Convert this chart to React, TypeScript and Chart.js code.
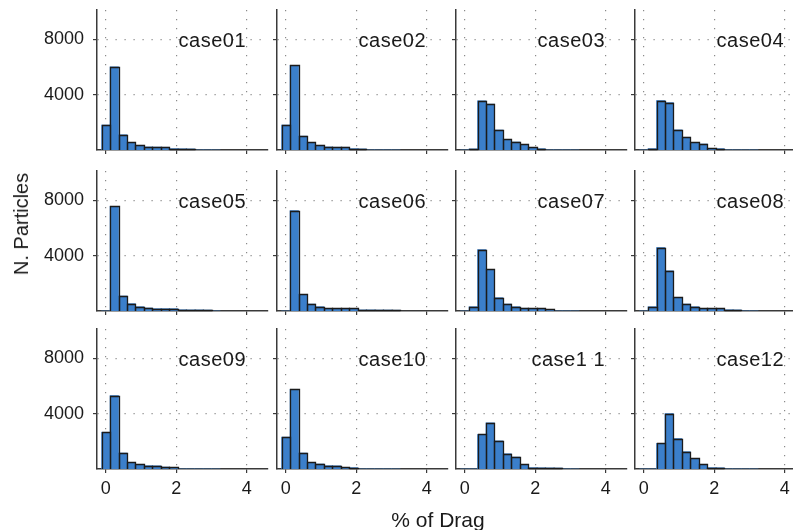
import React, { useEffect, useRef } from "react";
import { Chart, registerables } from "chart.js";

Chart.register(...registerables);

// Histogram bin centres (% of drag), bin width 0.24
const BIN_CENTERS = [0, 0.24, 0.48, 0.72, 0.96, 1.2, 1.44, 1.68, 1.92, 2.16, 2.4, 2.64, 2.88, 3.12];

const CASE_NAMES = ["case01", "case02", "case03", "case04", "case05", "case06", "case07", "case08", "case09", "case10", "case1 1", "case12"];

const CASE01 = [1800, 6000, 1100, 550, 340, 220, 210, 200, 100, 90, 80, 0, 0, 0];
const CASE02 = [1800, 6100, 1000, 550, 340, 220, 200, 200, 100, 80, 0, 0, 0, 0];
const CASE03 = [0, 80, 3550, 3310, 1440, 770, 575, 410, 190, 96, 0, 0, 0, 0];
const CASE04 = [0, 100, 3570, 3420, 1450, 920, 550, 430, 120, 100, 0, 0, 0, 0];
const CASE05 = [0, 7550, 1080, 530, 310, 215, 170, 170, 170, 90, 80, 80, 70, 0];
const CASE06 = [0, 7250, 1200, 500, 310, 190, 190, 190, 190, 80, 80, 70, 70, 60];
const CASE07 = [0, 310, 4430, 3000, 960, 500, 310, 200, 190, 190, 110, 0, 0, 0];
const CASE08 = [0, 310, 4580, 2900, 980, 500, 310, 190, 190, 190, 90, 80, 0, 0];
const CASE09 = [2650, 5300, 1150, 480, 340, 240, 230, 140, 110, 0, 0, 0, 0, 0];
const CASE10 = [2300, 5750, 1150, 480, 360, 240, 230, 120, 100, 0, 0, 0, 0, 0];
const CASE11 = [0, 0, 2490, 3330, 2030, 1100, 860, 330, 100, 90, 80, 70, 0, 0];
const CASE12 = [0, 0, 1850, 4000, 2200, 1250, 770, 340, 100, 90, 0, 0, 0, 0];

const CASES = [CASE01, CASE02, CASE03, CASE04, CASE05, CASE06, CASE07, CASE08, CASE09, CASE10, CASE11, CASE12];

const X_TICKS = [0, 2, 4];
const Y_TICKS = [4000, 8000];
const X_MIN = -0.25;
const X_MAX = 4.6;
const Y_MIN = 0;
const Y_MAX = 10100;

const FONT = "'Liberation Sans', Arimo, Arial, Helvetica, sans-serif";
const BAR_COLOR = "#3b7fcb";
const BAR_BORDER = "#1b1b1b";
const AXIS_COLOR = "#3a3a3a";
const GRID_COLOR = "#8a8a8a";
const TEXT_COLOR = "#1a1a1a";

// layout (page pixels)
const COL_LEFT = [97, 277, 456, 635];
const ROW_BOTTOM = [150, 311, 469];
const AREA_W = 171;
const AREA_H = 140;
const PAD_L = 97;
const PAD_T = 10;
const PAD_R = 12;
const PAD_B = 45;
const CW = PAD_L + AREA_W + PAD_R;
const CH = PAD_T + AREA_H + PAD_B;

const caseLabelPlugin = {
  id: "caseLabel",
  afterDraw(chart: any, _args: any, opts: any) {
    const { ctx, chartArea } = chart;
    ctx.save();
    ctx.font = `20px ${FONT}`;
    try { (ctx as any).letterSpacing = "0.5px"; } catch (e) {}
    ctx.fillStyle = TEXT_COLOR;
    ctx.textAlign = "right";
    ctx.textBaseline = "middle";
    ctx.fillText(opts.text, chartArea.right - 22, chartArea.top + 31);
    ctx.restore();
  },
};

// outlines every histogram bar (so that very short bars still show their dark edge)
const barOutlinePlugin = {
  id: "barOutline",
  afterDatasetsDraw(chart: any) {
    const { ctx, chartArea } = chart;
    const meta = chart.getDatasetMeta(0);
    ctx.save();
    ctx.beginPath();
    ctx.rect(chartArea.left, chartArea.top, chartArea.right - chartArea.left, chartArea.bottom - chartArea.top + 1);
    ctx.clip();
    ctx.strokeStyle = BAR_BORDER;
    ctx.lineWidth = 1.3;
    meta.data.forEach((el: any, i: number) => {
      const v = chart.data.datasets[0].data[i];
      if (!v) return;
      const { x, y, base, width } = el.getProps(["x", "y", "base", "width"], true);
      const l = Math.round(x - width / 2) + 0.5;
      const rr = Math.round(x + width / 2) + 0.5;
      const t = Math.round(Math.min(y, base - 1.5)) + 0.5;
      const b = Math.round(base);
      ctx.beginPath();
      ctx.moveTo(l, b);
      ctx.lineTo(l, t);
      ctx.lineTo(rr, t);
      ctx.lineTo(rr, b);
      ctx.stroke();
    });
    ctx.restore();
  },
};

function Panel({ idx }: { idx: number }) {
  const ref = useRef<HTMLCanvasElement>(null);
  const r = Math.floor(idx / 4);
  const c = idx % 4;
  const showY = c === 0;
  const showX = r === 2;

  useEffect(() => {
    const chart = new Chart(ref.current as HTMLCanvasElement, {
      type: "bar",
      data: {
        labels: BIN_CENTERS,
        datasets: [
          {
            data: CASES[idx],
            backgroundColor: BAR_COLOR,
            borderWidth: 0,
            barPercentage: 1,
            categoryPercentage: 1,
          },
        ],
      },
      options: {
        responsive: false,
        animation: false,
        events: [],
        layout: { padding: { left: 0, top: PAD_T, right: PAD_R, bottom: 0 } },
        plugins: {
          legend: { display: false },
          tooltip: { enabled: false },
          caseLabel: { text: CASE_NAMES[idx] },
        } as any,
        scales: {
          x: {
            type: "linear",
            min: X_MIN,
            max: X_MAX,
            offset: false,
            afterBuildTicks: (s: any) => {
              s.ticks = X_TICKS.map((v) => ({ value: v }));
            },
            afterFit: (s: any) => {
              s.height = PAD_B;
              s.paddingLeft = 0;
              s.paddingRight = 0;
              s.paddingTop = 0;
              s.paddingBottom = 0;
            },
            grid: {
              offset: false,
              color: GRID_COLOR,
              lineWidth: 1.2,
              drawTicks: true,
              tickLength: 4,
              tickColor: AXIS_COLOR,
              tickWidth: 1.2,
            },
            border: { display: true, color: AXIS_COLOR, width: 1.5, dash: [1.2, 7.8] },
            ticks: {
              display: showX,
              font: { family: FONT, size: 18 },
              color: TEXT_COLOR,
              padding: 5,
              maxRotation: 0,
              autoSkip: false,
              callback: (v: any) => String(v),
            },
          },
          y: {
            type: "linear",
            min: Y_MIN,
            max: Y_MAX,
            afterBuildTicks: (s: any) => {
              s.ticks = Y_TICKS.map((v) => ({ value: v }));
            },
            afterFit: (s: any) => {
              s.width = PAD_L;
              s.paddingLeft = 0;
              s.paddingRight = 0;
              s.paddingTop = 0;
              s.paddingBottom = 0;
            },
            grid: {
              color: GRID_COLOR,
              lineWidth: 1.2,
              drawTicks: true,
              tickLength: 4,
              tickColor: AXIS_COLOR,
              tickWidth: 1.2,
            },
            border: { display: true, color: AXIS_COLOR, width: 1.5, dash: [1.2, 7.8] },
            ticks: {
              display: showY,
              font: { family: FONT, size: 18 },
              color: TEXT_COLOR,
              padding: 9,
              autoSkip: false,
              callback: (v: any) => String(v),
            },
          },
        },
      } as any,
      plugins: [barOutlinePlugin, caseLabelPlugin],
    });
    return () => chart.destroy();
  }, [idx]);

  return (
    <canvas
      ref={ref}
      width={CW}
      height={CH}
      style={{
        position: "absolute",
        left: COL_LEFT[c] - PAD_L,
        top: ROW_BOTTOM[r] - AREA_H - PAD_T,
        width: CW,
        height: CH,
      }}
    />
  );
}

export default function App() {
  return (
    <div
      style={{
        position: "absolute",
        left: 0,
        top: 0,
        width: 793,
        height: 530,
        overflow: "hidden",
        background: "#ffffff",
        fontFamily: FONT,
      }}
    >
      {CASES.map((_, i) => (
        <Panel key={i} idx={i} />
      ))}
      <div
        style={{
          position: "absolute",
          left: 21,
          top: 224,
          transform: "translate(-50%, -50%) rotate(-90deg)",
          fontSize: 20,
          color: TEXT_COLOR,
          whiteSpace: "nowrap",
          lineHeight: 1,
        }}
      >
        N. Particles
      </div>
      <div
        style={{
          position: "absolute",
          left: 438,
          top: 519,
          transform: "translate(-50%, -50%)",
          fontSize: 21,
          color: TEXT_COLOR,
          whiteSpace: "nowrap",
          lineHeight: 1,
        }}
      >
        % of Drag
      </div>
    </div>
  );
}
